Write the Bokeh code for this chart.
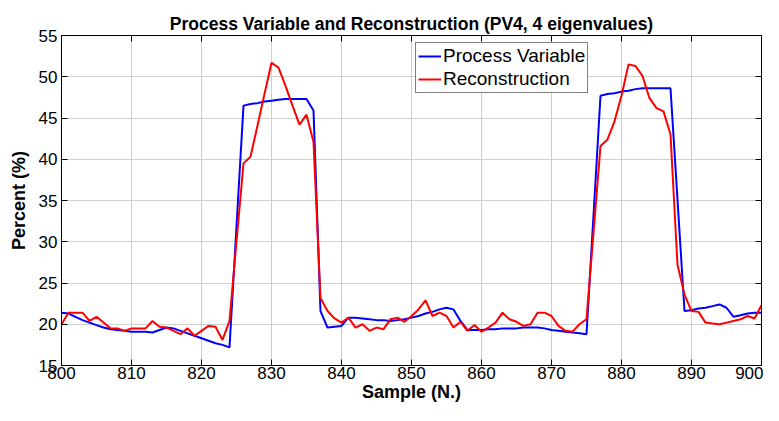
from bokeh.plotting import figure
from bokeh.models import LinearAxis, Range1d, FixedTicker, Legend
from bokeh.embed import file_html
from bokeh.resources import INLINE

samples = list(range(800, 901))

process_variable = [
    21.4, 21.3, 20.9, 20.5, 20.2, 19.9, 19.6, 19.4, 19.3, 19.2,   # 800-809
    19.1, 19.1, 19.1, 19.0, 19.3, 19.6, 19.5, 19.2, 18.9, 18.6,   # 810-819
    18.3, 18.0, 17.7, 17.5, 17.2, 31.9, 46.5, 46.7, 46.8, 47.0,   # 820-829
    47.1, 47.2, 47.3, 47.3, 47.3, 47.3, 45.9, 21.6, 19.6, 19.7,   # 830-839
    19.8, 20.8, 20.8, 20.7, 20.6, 20.5, 20.5, 20.4, 20.5, 20.6,   # 840-849
    20.8, 21.0, 21.3, 21.5, 21.8, 22.0, 21.8, 20.4, 19.3, 19.3,   # 850-859
    19.3, 19.4, 19.4, 19.5, 19.5, 19.5, 19.6, 19.6, 19.6, 19.5,   # 860-869
    19.3, 19.2, 19.1, 19.0, 18.9, 18.8, 33.2, 47.7, 47.9, 48.0,   # 870-879
    48.2, 48.3, 48.5, 48.6, 48.6, 48.6, 48.6, 48.6, 35.1, 21.6,   # 880-889
    21.7, 21.9, 22.0, 22.2, 22.4, 22.0, 20.9, 21.1, 21.3, 21.4,   # 890-899
    21.4,                                                         # 900
]

reconstruction = [
    20.0, 21.4, 21.4, 21.4, 20.4, 20.9, 20.2, 19.5, 19.5, 19.2,   # 800-809
    19.5, 19.5, 19.5, 20.4, 19.7, 19.6, 19.2, 18.8, 19.5, 18.6,   # 810-819
    19.2, 19.8, 19.7, 18.1, 20.4, 30.0, 39.5, 40.3, 44.1, 47.9,   # 820-829
    51.7, 51.1, 48.9, 46.5, 44.2, 45.4, 42.1, 23.2, 21.6, 20.7,   # 830-839
    20.2, 20.8, 19.6, 20.0, 19.2, 19.6, 19.4, 20.6, 20.8, 20.3,   # 840-849
    21.0, 21.8, 22.9, 21.0, 21.4, 21.0, 19.6, 20.3, 19.2, 19.9,   # 850-859
    19.1, 19.6, 20.2, 21.4, 20.6, 20.3, 19.8, 20.0, 21.4, 21.4,   # 860-869
    21.0, 19.8, 19.2, 19.1, 20.0, 20.6, 31.1, 41.6, 42.4, 44.6,   # 870-879
    47.7, 51.5, 51.3, 50.1, 47.4, 46.2, 45.8, 43.0, 27.2, 23.6,   # 880-889
    21.6, 21.5, 20.2, 20.1, 20.0, 20.2, 20.4, 20.6, 21.0, 20.7,   # 890-899
    22.3,                                                         # 900
]

x_ticks = list(range(800, 901, 10))
y_ticks = list(range(15, 56, 5))

title_text = "Process Variable and Reconstruction (PV4, 4 eigenvalues)"
x_label = "Sample (N.)"
y_label = "Percent (%)"
series_names = ["Process Variable", "Reconstruction"]

FONT = "Liberation Sans"

p = figure(width=763, height=405, output_backend="svg", toolbar_location=None,
           x_range=Range1d(800, 900), y_range=Range1d(15, 55),
           min_border_left=61, min_border_right=2, min_border_top=35,
           min_border_bottom=40, background_fill_color="white",
           border_fill_color="white")

p.title.text = title_text
p.title.align = "center"
p.title.text_font = FONT
p.title.text_font_size = "17.5px"
p.title.text_font_style = "bold"
p.title.text_color = "black"
p.title.offset = 0
p.title.standoff = 3

p.outline_line_color = "black"
p.outline_line_width = 1
p.outline_line_alpha = 1

for ax, ticks in ((p.xaxis[0], x_ticks), (p.yaxis[0], y_ticks)):
    ax.ticker = FixedTicker(ticks=ticks)
    ax.major_tick_in = 6
    ax.major_tick_out = 0
    ax.minor_tick_line_color = None
    ax.axis_line_color = "black"
    ax.major_tick_line_color = "black"
    ax.major_label_text_font = FONT
    ax.major_label_text_font_size = "17px"
    ax.major_label_text_color = "black"
    ax.axis_label_text_font = FONT
    ax.axis_label_text_font_size = "18px"
    ax.axis_label_text_font_style = "bold"
    ax.axis_label_text_color = "black"

p.xaxis.axis_label = x_label
p.yaxis.axis_label = y_label
p.xaxis.major_label_standoff = 1
p.xaxis.axis_label_standoff = 0
p.yaxis.major_label_standoff = 4
p.yaxis.axis_label_standoff = 7

for loc, ticks in (("above", x_ticks), ("right", y_ticks)):
    ax = LinearAxis(ticker=FixedTicker(ticks=ticks),
                    major_tick_in=6, major_tick_out=0,
                    minor_tick_line_color=None,
                    major_label_text_font_size="0px",
                    major_label_standoff=0,
                    axis_line_color="black", major_tick_line_color="black")
    p.add_layout(ax, loc)

p.xgrid.ticker = FixedTicker(ticks=x_ticks)
p.ygrid.ticker = FixedTicker(ticks=y_ticks)
p.grid.grid_line_color = "#cfcfcf"
p.grid.grid_line_width = 1

r1 = p.line(samples, process_variable, line_color="#0000FF", line_width=2)
r2 = p.line(samples, reconstruction, line_color="#FF0000", line_width=2)

legend = Legend(items=[(series_names[0], [r1]), (series_names[1], [r2])],
                location=(354, 272))
legend.border_line_color = "black"
legend.border_line_width = 1.5
legend.background_fill_color = "white"
legend.background_fill_alpha = 1
legend.label_text_font = FONT
legend.label_text_font_size = "19px"
legend.label_text_color = "black"
legend.glyph_width = 23
legend.glyph_height = 20
legend.label_standoff = 2
legend.label_height = 20
legend.spacing = 1
legend.padding = 2
legend.margin = 0
p.add_layout(legend)

open("out.html", "w").write(file_html(p, INLINE))
